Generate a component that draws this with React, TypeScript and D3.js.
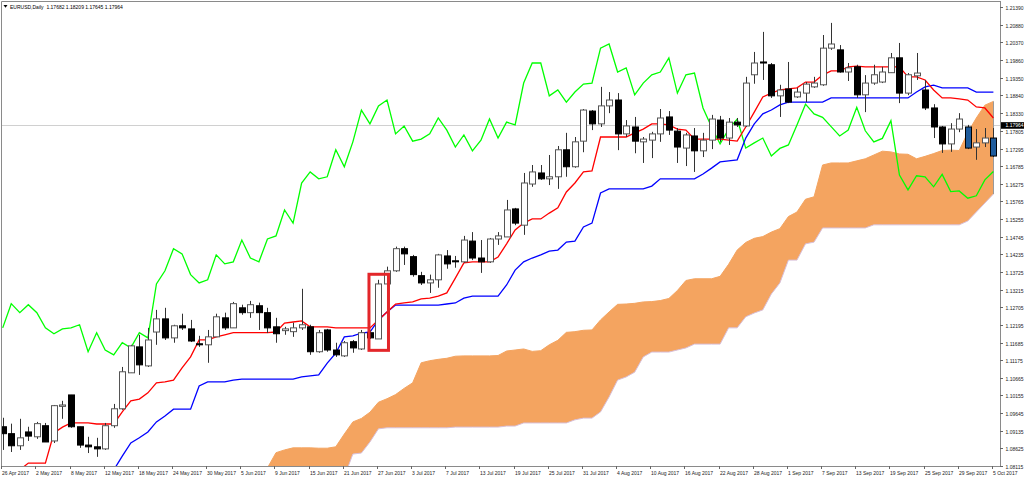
import React from 'react';
import * as d3 from 'd3';

// EURUSD daily, 26 Apr 2017 .. 5 Oct 2017 (one entry per trading day)
const opens = [
  1.0925, 1.0905, 1.0870, 1.0910, 1.0896, 1.0928, 1.0884, 1.0984, 1.1017, 1.0925,
  1.0872, 1.0867, 1.0861, 1.0928, 1.0977, 1.1081, 1.1156, 1.1101, 1.1199, 1.1237,
  1.1182, 1.1217, 1.1208, 1.1165, 1.1162, 1.1185, 1.1240, 1.1211, 1.1269, 1.1255,
  1.1275, 1.1255, 1.1214, 1.1203, 1.1200, 1.1211, 1.1214, 1.1142, 1.1205, 1.1147,
  1.1130, 1.1171, 1.1150, 1.1197, 1.1179, 1.1338, 1.1376, 1.1440, 1.1417, 1.1362,
  1.1341, 1.1350, 1.1419, 1.1405, 1.1402, 1.1462, 1.1413, 1.1402, 1.1468, 1.1474,
  1.1555, 1.1508, 1.1627, 1.1659, 1.1642, 1.1648, 1.1726, 1.1677, 1.1751, 1.1838,
  1.1801, 1.1853, 1.1870, 1.1772, 1.1792, 1.1749, 1.1754, 1.1772, 1.1821, 1.1780,
  1.1731, 1.1766, 1.1723, 1.1754, 1.1812, 1.1760, 1.1806, 1.1795, 1.1943, 1.1980,
  1.1972, 1.1882, 1.1902, 1.1879, 1.1890, 1.1908, 1.1914, 1.2020, 1.2015, 1.1951,
  1.1966, 1.1885, 1.1919, 1.1922, 1.1949, 1.1992, 1.1890, 1.1940, 1.1899, 1.1847,
  1.1792, 1.1743, 1.1786, 1.1792, 1.1734, 1.1746, 1.1760,
];
const highs = [
  1.0951, 1.0934, 1.0948, 1.0925, 1.0939, 1.0936, 1.0988, 1.1000, 1.1017, 1.0925,
  1.0896, 1.0893, 1.0936, 1.0991, 1.1098, 1.1162, 1.1191, 1.1211, 1.1263, 1.1269,
  1.1220, 1.1252, 1.1234, 1.1188, 1.1205, 1.1252, 1.1255, 1.1286, 1.1278, 1.1289,
  1.1284, 1.1269, 1.1240, 1.1214, 1.1226, 1.1324, 1.1220, 1.1205, 1.1208, 1.1168,
  1.1173, 1.1176, 1.1205, 1.1205, 1.1350, 1.1388, 1.1446, 1.1446, 1.1422, 1.1373,
  1.1365, 1.1425, 1.1436, 1.1419, 1.1477, 1.1488, 1.1465, 1.1471, 1.1488, 1.1581,
  1.1558, 1.1659, 1.1682, 1.1682, 1.1711, 1.1737, 1.1775, 1.1763, 1.1844, 1.1841,
  1.1908, 1.1893, 1.1890, 1.1812, 1.1821, 1.1763, 1.1778, 1.1844, 1.1838, 1.1789,
  1.1775, 1.1789, 1.1775, 1.1827, 1.1824, 1.1818, 1.1818, 1.1937, 1.2009, 1.2067,
  1.1977, 1.1914, 1.1980, 1.1905, 1.1922, 1.1937, 1.2058, 1.2093, 1.2029, 1.1977,
  1.1972, 1.1942, 1.1972, 1.1966, 1.2006, 1.2035, 1.1948, 1.2006, 1.1928, 1.1858,
  1.1795, 1.1803, 1.1832, 1.1798, 1.1786, 1.1789, 1.1789,
];
const lows = [
  1.0858, 1.0852, 1.0858, 1.0884, 1.0890, 1.0881, 1.0878, 1.0948, 1.0922, 1.0864,
  1.0849, 1.0838, 1.0858, 1.0922, 1.0974, 1.1081, 1.1075, 1.1098, 1.1162, 1.1176,
  1.1168, 1.1205, 1.1170, 1.1156, 1.1110, 1.1185, 1.1205, 1.1211, 1.1249, 1.1240,
  1.1205, 1.1196, 1.1168, 1.1191, 1.1185, 1.1205, 1.1133, 1.1139, 1.1142, 1.1127,
  1.1127, 1.1139, 1.1147, 1.1179, 1.1179, 1.1335, 1.1373, 1.1393, 1.1359, 1.1335,
  1.1312, 1.1327, 1.1382, 1.1385, 1.1399, 1.1407, 1.1370, 1.1399, 1.1451, 1.1474,
  1.1508, 1.1480, 1.1619, 1.1639, 1.1624, 1.1613, 1.1648, 1.1674, 1.1719, 1.1783,
  1.1792, 1.1832, 1.1725, 1.1763, 1.1716, 1.1688, 1.1702, 1.1749, 1.1769, 1.1688,
  1.1679, 1.1662, 1.1705, 1.1728, 1.1749, 1.1740, 1.1792, 1.1792, 1.1917, 1.1928,
  1.1876, 1.1821, 1.1861, 1.1876, 1.1864, 1.1905, 1.1911, 1.2015, 1.1949, 1.1925,
  1.1876, 1.1835, 1.1914, 1.1919, 1.1949, 1.1861, 1.1884, 1.1928, 1.1841, 1.1760,
  1.1717, 1.1720, 1.1777, 1.1728, 1.1697, 1.1734, 1.1705,
];
const closes = [
  1.0905, 1.0870, 1.0893, 1.0898, 1.0934, 1.0881, 1.0986, 1.0988, 1.0925, 1.0872,
  1.0867, 1.0861, 1.0928, 1.0977, 1.1084, 1.1159, 1.1104, 1.1176, 1.1237, 1.1182,
  1.1217, 1.1211, 1.1173, 1.1162, 1.1185, 1.1243, 1.1211, 1.1281, 1.1255, 1.1278,
  1.1255, 1.1211, 1.1194, 1.1208, 1.1211, 1.1220, 1.1142, 1.1197, 1.1147, 1.1133,
  1.1168, 1.1153, 1.1197, 1.1182, 1.1338, 1.1376, 1.1440, 1.1425, 1.1365, 1.1341,
  1.1350, 1.1422, 1.1396, 1.1402, 1.1465, 1.1413, 1.1402, 1.1468, 1.1477, 1.1552,
  1.1514, 1.1630, 1.1662, 1.1642, 1.1648, 1.1726, 1.1677, 1.1749, 1.1841, 1.1801,
  1.1853, 1.1870, 1.1772, 1.1795, 1.1751, 1.1757, 1.1772, 1.1818, 1.1783, 1.1734,
  1.1769, 1.1723, 1.1754, 1.1815, 1.1760, 1.1806, 1.1798, 1.1919, 1.1977, 1.1977,
  1.1882, 1.1899, 1.1864, 1.1893, 1.1916, 1.1919, 1.2020, 1.2032, 1.1951, 1.1963,
  1.1885, 1.1919, 1.1943, 1.1951, 1.1992, 1.1890, 1.1943, 1.1948, 1.1847, 1.1792,
  1.1743, 1.1786, 1.1815, 1.1731, 1.1746, 1.1760, 1.1708,
];

// Ichimoku lines
const tenkan = [
  1.0790, 1.0790, 1.0800, 1.0820, 1.0820, 1.0820, 1.0907, 1.0924, 1.0936, 1.0936,
  1.0936, 1.0933, 1.0933, 1.0933, 1.0968, 1.1000, 1.1005, 1.1023, 1.1052, 1.1055,
  1.1060, 1.1095, 1.1127, 1.1176, 1.1176, 1.1185, 1.1191, 1.1197, 1.1197, 1.1197,
  1.1197, 1.1197, 1.1199, 1.1225, 1.1228, 1.1231, 1.1214, 1.1214, 1.1214, 1.1211,
  1.1211, 1.1211, 1.1211, 1.1211, 1.1234, 1.1257, 1.1280, 1.1283, 1.1286, 1.1295,
  1.1297, 1.1303, 1.1312, 1.1355, 1.1399, 1.1402, 1.1402, 1.1402, 1.1416, 1.1454,
  1.1494, 1.1514, 1.1526, 1.1526, 1.1543, 1.1558, 1.1604, 1.1630, 1.1662, 1.1665,
  1.1763, 1.1763, 1.1763, 1.1763, 1.1775, 1.1786, 1.1801, 1.1801, 1.1798, 1.1786,
  1.1783, 1.1757, 1.1757, 1.1757, 1.1757, 1.1754, 1.1751, 1.1792, 1.1835, 1.1879,
  1.1890, 1.1899, 1.1902, 1.1905, 1.1922, 1.1922, 1.1942, 1.1954, 1.1954, 1.1966,
  1.1968, 1.1966, 1.1966, 1.1966, 1.1966, 1.1966, 1.1937, 1.1937, 1.1928, 1.1899,
  1.1876, 1.1876, 1.1873, 1.1870, 1.1850, 1.1847, 1.1818,
];
const kijun = [
  1.0792, 1.0792, 1.0792, 1.0792, 1.0792, 1.0792, 1.0792, 1.0792, 1.0792, 1.0792,
  1.0792, 1.0792, 1.0792, 1.0800, 1.0840, 1.0878, 1.0893, 1.0910, 1.0939, 1.0956,
  1.0976, 1.0976, 1.0976, 1.1043, 1.1055, 1.1055, 1.1055, 1.1060, 1.1063, 1.1063,
  1.1063, 1.1063, 1.1063, 1.1063, 1.1063, 1.1069, 1.1072, 1.1075, 1.1109, 1.1138,
  1.1185, 1.1188, 1.1196, 1.1199, 1.1234, 1.1257, 1.1277, 1.1277, 1.1277, 1.1277,
  1.1277, 1.1277, 1.1280, 1.1283, 1.1297, 1.1303, 1.1303, 1.1303, 1.1303, 1.1335,
  1.1378, 1.1402, 1.1413, 1.1422, 1.1433, 1.1436, 1.1459, 1.1462, 1.1503, 1.1514,
  1.1601, 1.1613, 1.1613, 1.1613, 1.1613, 1.1613, 1.1621, 1.1642, 1.1642, 1.1642,
  1.1642, 1.1642, 1.1656, 1.1673, 1.1691, 1.1694, 1.1697, 1.1760, 1.1801, 1.1830,
  1.1841, 1.1856, 1.1864, 1.1864, 1.1864, 1.1864, 1.1864, 1.1876, 1.1876, 1.1876,
  1.1876, 1.1876, 1.1876, 1.1876, 1.1876, 1.1876, 1.1876, 1.1893, 1.1908, 1.1913,
  1.1905, 1.1905, 1.1905, 1.1905, 1.1893, 1.1893, 1.1893,
];
// chikou = close 26 bars later; the last 26 points use bars beyond the screen
const chikouShift = 26;
const chikouTail = [
  1.1730, 1.1740, 1.1798, 1.1858, 1.1830, 1.1820, 1.1793, 1.1766, 1.1783, 1.1849,
  1.1781, 1.1749, 1.1759, 1.1810, 1.1653, 1.1610, 1.1651, 1.1648, 1.1619, 1.1655,
  1.1605, 1.1607, 1.1586, 1.1593, 1.1639, 1.1663,
];
// kumo spans, starting at bar 26
const cloudStart = 26;
const senkouA = [
  1.0791, 1.0791, 1.0796, 1.0806, 1.0806, 1.0806, 1.0850, 1.0858, 1.0864, 1.0864,
  1.0864, 1.0863, 1.0863, 1.0867, 1.0904, 1.0939, 1.0949, 1.0967, 1.0996, 1.1006,
  1.1018, 1.1036, 1.1052, 1.1110, 1.1116, 1.1120, 1.1123, 1.1129, 1.1130, 1.1130,
  1.1130, 1.1130, 1.1131, 1.1144, 1.1147, 1.1150, 1.1143, 1.1145, 1.1162, 1.1175,
  1.1198, 1.1200, 1.1204, 1.1205, 1.1234, 1.1257, 1.1279, 1.1280, 1.1282, 1.1286,
  1.1287, 1.1290, 1.1296, 1.1319, 1.1348, 1.1353, 1.1353, 1.1353, 1.1360, 1.1395,
  1.1436, 1.1458, 1.1470, 1.1475, 1.1488, 1.1498, 1.1533, 1.1546, 1.1583, 1.1590,
  1.1682, 1.1688, 1.1688, 1.1688, 1.1694, 1.1700, 1.1711, 1.1722, 1.1720, 1.1714,
  1.1713, 1.1700, 1.1707, 1.1715, 1.1724, 1.1725, 1.1724, 1.1776, 1.1818, 1.1855,
  1.1866,
];
const senkouB = [
  1.0780, 1.0780, 1.0780, 1.0780, 1.0780, 1.0780, 1.0780, 1.0780, 1.0780, 1.0780,
  1.0780, 1.0780, 1.0780, 1.0780, 1.0780, 1.0846, 1.0849, 1.0881, 1.0919, 1.0922,
  1.0922, 1.0922, 1.0922, 1.0922, 1.0922, 1.0922, 1.0922, 1.0924, 1.0924, 1.0924,
  1.0924, 1.0924, 1.0924, 1.0927, 1.0927, 1.0936, 1.0936, 1.0936, 1.0936, 1.0936,
  1.0936, 1.0945, 1.0950, 1.0950, 1.0968, 1.1011, 1.1060, 1.1069, 1.1083, 1.1127,
  1.1141, 1.1141, 1.1141, 1.1147, 1.1153, 1.1164, 1.1164, 1.1164, 1.1164, 1.1211,
  1.1211, 1.1243, 1.1254, 1.1263, 1.1309, 1.1341, 1.1407, 1.1407, 1.1454, 1.1459,
  1.1500, 1.1500, 1.1500, 1.1500, 1.1500, 1.1500, 1.1509, 1.1509, 1.1509, 1.1509,
  1.1509, 1.1509, 1.1509, 1.1509, 1.1509, 1.1509, 1.1509, 1.1520, 1.1546, 1.1572,
  1.1598,
];
const blueBars = [113, 116];

// one date label every 4 bars
const dateStep = 4;
const dateLabels = [
  '26 Apr 2017', '2 May 2017', '8 May 2017', '12 May 2017', '18 May 2017', '24 May 2017',
  '30 May 2017', '5 Jun 2017', '9 Jun 2017', '15 Jun 2017', '21 Jun 2017', '27 Jun 2017',
  '3 Jul 2017', '7 Jul 2017', '13 Jul 2017', '19 Jul 2017', '25 Jul 2017', '31 Jul 2017',
  '4 Aug 2017', '10 Aug 2017', '16 Aug 2017', '22 Aug 2017', '28 Aug 2017', '1 Sep 2017',
  '7 Sep 2017', '13 Sep 2017', '19 Sep 2017', '25 Sep 2017', '29 Sep 2017', '5 Oct 2017',
];
const priceTicks = [
  '1.21390', '1.20880', '1.20370', '1.19860', '1.19350', '1.18840', '1.18330', '1.17805',
  '1.17295', '1.16785', '1.16275', '1.15765', '1.15255', '1.14745', '1.14235', '1.13725',
  '1.13215', '1.12705', '1.12195', '1.11685', '1.11175', '1.10665', '1.10155', '1.09645',
  '1.09135', '1.08625', '1.08115',
];
const header = 'EURUSD,Daily  1.17682 1.18209 1.17645 1.17964';
const lastPrice = 1.17964;
const highlight = { bar: 44, top: 1.1366, bottom: 1.1146 };

const W = 1024;
const H = 479;
const FONT = '"Liberation Sans", Arial, sans-serif';

export default function App() {
  const x = d3.scaleLinear().domain([0, closes.length - 1]).range([2.7, 993.4]);
  const y = d3.scaleLinear().domain([1.08115, 1.2139]).range([466, 7]);

  const line = d3.line<number>().x((_, i) => x(i)).y(d => y(d));
  const chikou = closes.slice(chikouShift).concat(chikouTail);

  const cloud = d3.area<number>()
    .x((_, k) => x(k + cloudStart))
    .y0((_, k) => y(senkouB[k]))
    .y1(d => y(d));
  const spanLine = d3.line<number>().x((_, k) => x(k + cloudStart)).y(d => y(d));

  const plotRight = 1000;
  const plotBottom = 466;
  const lastIdx = cloudStart + senkouA.length - 1;

  return (
    <div style={{ position: 'absolute', left: 0, top: 0 }}>
      <svg width={W} height={H} style={{ display: 'block', background: '#fff' }}>
        <defs>
          <clipPath id="plot">
            <rect x={2} y={2} width={plotRight - 2} height={plotBottom - 2} />
          </clipPath>
        </defs>

        {/* frame */}
        <line x1={1.5} y1={1.5} x2={plotRight} y2={1.5} stroke="#8a8a8a" />
        <line x1={1.5} y1={1.5} x2={1.5} y2={plotBottom} stroke="#8a8a8a" />
        <line x1={plotRight + 0.5} y1={1} x2={plotRight + 0.5} y2={plotBottom} stroke="#8a8a8a" />
        <line x1={1} y1={plotBottom + 0.5} x2={plotRight + 0.5} y2={plotBottom + 0.5} stroke="#8a8a8a" />

        <g clipPath="url(#plot)">
          {/* last price line */}
          <line x1={2} x2={plotRight} y1={Math.round(y(lastPrice)) + 0.5} y2={Math.round(y(lastPrice)) + 0.5}
            stroke="#d0d0d0" strokeWidth={1} />

          {/* kumo */}
          <path d={cloud(senkouA) || ''} fill="#f4a460" />
          <path d={spanLine(senkouA) || ''} fill="none" stroke="#f4a460" strokeWidth={1} />
          <path d={spanLine(senkouB) || ''} fill="none" stroke="#d8bfd8" strokeWidth={1} />
          <line x1={Math.round(x(lastIdx)) + 0.5} x2={Math.round(x(lastIdx)) + 0.5}
            y1={y(senkouA[senkouA.length - 1])} y2={y(senkouB[senkouB.length - 1])}
            stroke="#9a9a9a" strokeWidth={1} />

          {/* ichimoku lines */}
          <path d={line(chikou) || ''} fill="none" stroke="#00ff00" strokeWidth={1.3} />
          <path d={line(kijun) || ''} fill="none" stroke="#0000ff" strokeWidth={1.3} />
          <path d={line(tenkan) || ''} fill="none" stroke="#ff0000" strokeWidth={1.3} />

          {/* candles */}
          {closes.map((c, i) => {
            const o = opens[i];
            const cx = Math.round(x(i));
            const top = y(Math.max(o, c));
            const bot = y(Math.min(o, c));
            const bull = c >= o;
            const blue = blueBars.includes(i);
            const fill = blue ? '#1f5c9c' : bull ? '#ffffff' : '#000000';
            return (
              <g key={i}>
                <line x1={cx + 0.5} x2={cx + 0.5} y1={y(highs[i])} y2={y(lows[i])} stroke="#333" strokeWidth={1} />
                <rect x={cx - 2.5} y={top} width={6} height={Math.max(1, bot - top)}
                  fill={fill} stroke={bull && !blue ? '#555' : '#000'} strokeWidth={1} />
              </g>
            );
          })}

          {/* highlighted bar */}
          <rect x={x(highlight.bar) - 9.5} y={y(highlight.top)} width={19.5}
            height={y(highlight.bottom) - y(highlight.top)}
            fill="none" stroke="#e3262a" strokeWidth={3} />
        </g>

        {/* header */}
        <path d="M3.5,5 L7.5,5 L5.5,7.8 Z" fill="#000" />
        <text x={10} y={8.8} fontFamily={FONT} fontSize={5} fill="#000" style={{ whiteSpace: 'pre' }}>
          {header}
        </text>

        {/* price axis */}
        {priceTicks.map(t => {
          const py = Math.round(y(+t)) + 0.5;
          return (
            <g key={t}>
              <line x1={plotRight} x2={plotRight + 3} y1={py} y2={py} stroke="#666" />
              <text x={1005.5} y={py} dominantBaseline="central" fontFamily={FONT} fontSize={5} fill="#222">
                {t}
              </text>
            </g>
          );
        })}
        <rect x={1001} y={y(lastPrice) - 3.3} width={23} height={6.6} fill="#000" />
        <text x={1005.5} y={y(lastPrice)} dominantBaseline="central" fontFamily={FONT} fontSize={5} fill="#fff">
          {lastPrice.toFixed(5)}
        </text>

        {/* time axis */}
        {dateLabels.map((lab, k) => {
          const tx = Math.round(x(k * dateStep) - 1.5) + 0.5;
          return (
            <g key={lab}>
              <line x1={tx} x2={tx} y1={plotBottom} y2={plotBottom + 3} stroke="#666" />
              <text x={tx + 0.5} y={474.5} fontFamily={FONT} fontSize={5} fill="#222">
                {lab}
              </text>
            </g>
          );
        })}
      </svg>
    </div>
  );
}
